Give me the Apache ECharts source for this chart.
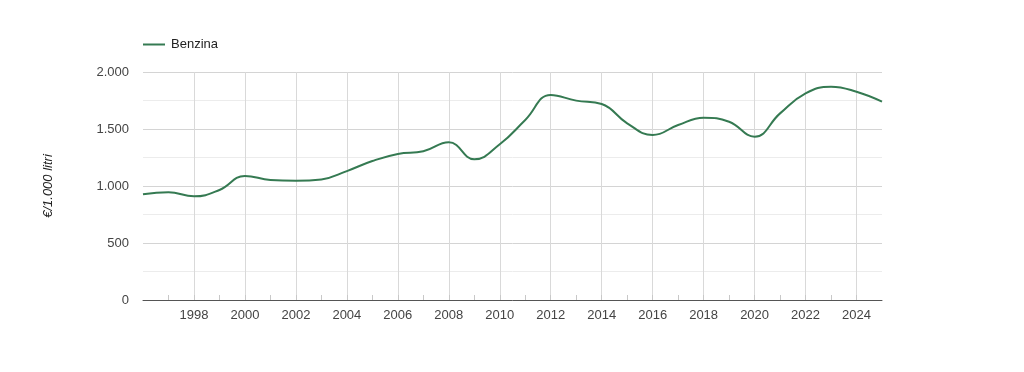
<!DOCTYPE html>
<html><head><meta charset="utf-8">
<script src="https://cdn.jsdelivr.net/npm/echarts@6/dist/echarts.min.js"></script>
<style>html,body{margin:0;padding:0;background:#fff}#c{width:1024px;height:372px}</style>
</head><body><div id="c"></div>
<script>
const seriesName = 'Benzina';
const yAxisTitle = '€/1.000 litri';
const years = [1996,1997,1998,1999,2000,2001,2002,2003,2004,2005,2006,2007,2008,2009,2010,2011,2012,2013,2014,2015,2016,2017,2018,2019,2020,2021,2022,2023,2024,2025];
const benzina = [927,945,909,965,1088,1053,1047,1058,1131,1219,1281,1304,1383,1234,1366,1579,1798,1749,1719,1550,1447,1535,1599,1564,1433,1637,1813,1871,1827,1740];

const fmt = v => String(v).replace(/\B(?=(\d{3})+(?!\d))/g, '.');
const xGridColors = years.map((y, i) => (i === 0 || i === years.length - 1 || y % 2) ? 'rgba(0,0,0,0)' : '#d9d9d9');
const font = 'Liberation Sans, Arial, sans-serif';

const chart = echarts.init(document.getElementById('c'), null, {renderer: 'canvas'});
chart.setOption({
  animation: false,
  textStyle: {fontFamily: font},
  legend: {
    left: 143, top: 38, padding: 0, itemWidth: 22, itemHeight: 2, itemGap: 6,
    icon: 'rect',
    textStyle: {fontFamily: font, fontSize: 13, color: '#222', padding: [0, 0, 0, 1]},
    data: [seriesName]
  },
  grid: {left: 143, right: 142, top: 72, bottom: 72, containLabel: false},
  xAxis: {
    type: 'value', min: years[0], max: years[years.length - 1], interval: 1,
    axisLine: {show: true, lineStyle: {color: '#555', width: 1}},
    axisTick: {show: true, inside: true, length: 5, lineStyle: {color: '#c8c8c8'}},
    axisLabel: {
      color: '#444', fontSize: 13, fontFamily: font, margin: 9,
      showMinLabel: false, showMaxLabel: false,
      formatter: v => (v % 2 === 0 && v !== years[0]) ? String(v) : ''
    },
    splitLine: {show: true, lineStyle: {color: xGridColors, width: 1}}
  },
  yAxis: {
    type: 'value', min: 0, max: 2000, interval: 250,
    name: yAxisTitle, nameLocation: 'middle', nameGap: 88, nameRotate: 90,
    nameTextStyle: {fontStyle: 'italic', fontSize: 13, color: '#222', fontFamily: font},
    axisLine: {show: false}, axisTick: {show: false},
    axisLabel: {
      color: '#444', fontSize: 13, fontFamily: font, margin: 14,
      formatter: v => v % 500 === 0 ? fmt(v) : ''
    },
    splitLine: {show: true, lineStyle: {color: ['#d4d4d4', '#ececec'], width: 1}}
  },
  series: [{
    name: seriesName, type: 'line', smooth: 0.45,
    symbol: 'none', showSymbol: false,
    data: years.map((y, i) => [y, benzina[i]]),
    lineStyle: {color: '#357a52', width: 2},
    itemStyle: {color: '#357a52'}
  }]
});
</script></body></html>
